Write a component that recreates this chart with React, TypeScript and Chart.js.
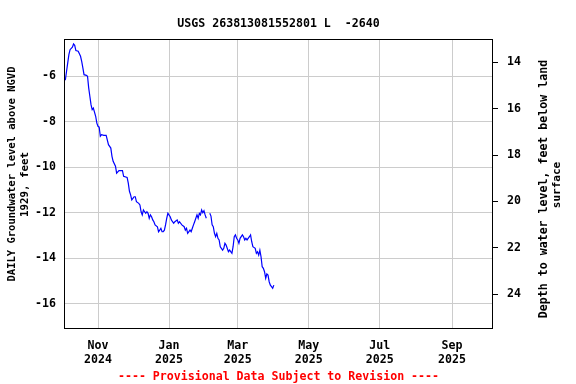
import React, { useEffect, useRef } from 'react';
import { Chart, registerables } from 'chart.js';

Chart.register(...registerables);

const chartTitle = 'USGS 263813081552801 L  -2640';
const leftAxisTitle = ['DAILY Groundwater level above NGVD', '1929, feet'];
const rightAxisTitle = ['Depth to water level, feet below land', 'surface'];
const footnote = '---- Provisional Data Subject to Revision ----';

const dates = [
  '2024-10-03', '2024-10-04', '2024-10-05', '2024-10-06', '2024-10-07', '2024-10-08', '2024-10-10', '2024-10-11',
  '2024-10-12', '2024-10-13', '2024-10-15', '2024-10-17', '2024-10-18', '2024-10-19', '2024-10-20', '2024-10-22',
  '2024-10-23', '2024-10-24', '2024-10-25', '2024-10-26', '2024-10-27', '2024-10-28', '2024-10-30', '2024-10-31',
  '2024-11-01', '2024-11-02', '2024-11-03', '2024-11-04', '2024-11-06', '2024-11-08', '2024-11-10', '2024-11-12',
  '2024-11-13', '2024-11-14', '2024-11-16', '2024-11-17', '2024-11-19', '2024-11-22', '2024-11-23', '2024-11-26',
  '2024-11-27', '2024-11-28', '2024-11-29', '2024-11-30', '2024-12-01', '2024-12-02', '2024-12-03', '2024-12-04',
  '2024-12-06', '2024-12-07', '2024-12-08', '2024-12-09', '2024-12-10', '2024-12-11', '2024-12-12', '2024-12-13',
  '2024-12-14', '2024-12-15', '2024-12-16', '2024-12-17', '2024-12-18', '2024-12-19', '2024-12-20', '2024-12-22',
  '2024-12-23', '2024-12-24', '2024-12-25', '2024-12-26', '2024-12-27', '2024-12-28', '2024-12-29', '2024-12-30',
  '2024-12-31', '2025-01-02', '2025-01-03', '2025-01-04', '2025-01-05', '2025-01-06', '2025-01-08', '2025-01-09',
  '2025-01-10', '2025-01-12', '2025-01-14', '2025-01-15', '2025-01-16', '2025-01-17', '2025-01-19', '2025-01-20',
  '2025-01-21', '2025-01-22', '2025-01-23', '2025-01-25', '2025-01-26', '2025-01-27', '2025-01-28', '2025-01-29',
  '2025-01-30', '2025-01-31', '2025-02-01', '2025-02-02', '2025-02-03', '2025-02-04', '2025-02-05', '2025-02-06',
  '2025-02-07', '2025-02-08', '2025-02-09', '2025-02-10', '2025-02-11', '2025-02-12', '2025-02-13', '2025-02-14',
  '2025-02-16', '2025-02-17', '2025-02-18', '2025-02-19', '2025-02-21', '2025-02-22', '2025-02-24', '2025-02-25',
  '2025-02-26', '2025-02-27', '2025-02-28', '2025-03-01', '2025-03-02', '2025-03-03', '2025-03-05', '2025-03-06',
  '2025-03-07', '2025-03-08', '2025-03-09', '2025-03-11', '2025-03-12', '2025-03-13', '2025-03-14', '2025-03-16',
  '2025-03-17', '2025-03-18', '2025-03-19', '2025-03-20', '2025-03-21', '2025-03-22', '2025-03-23', '2025-03-24',
  '2025-03-25', '2025-03-26', '2025-03-27', '2025-03-28', '2025-03-29', '2025-03-30', '2025-03-31', '2025-04-01',
];

const levels: (number | null)[] = [
  -6.15, -6.15, -5.78, -5.41, -5.05, -4.83, -4.72, -4.58,
  -4.64, -4.87, -4.90, -5.12, -5.34, -5.63, -5.93, -5.96,
  -6.00, -6.51, -6.88, -7.25, -7.47, -7.40, -7.76, -8.06,
  -8.20, -8.24, -8.64, -8.57, -8.60, -8.60, -9.01, -9.16,
  -9.52, -9.74, -9.96, -10.26, -10.15, -10.15, -10.40, -10.45,
  -10.70, -11.06, -11.22, -11.44, -11.37, -11.30, -11.30, -11.52,
  -11.59, -11.66, -11.96, -12.10, -11.88, -11.96, -12.03, -11.96,
  -12.03, -12.25, -12.10, -12.18, -12.32, -12.40, -12.54, -12.62,
  -12.84, -12.77, -12.69, -12.84, -12.84, -12.77, -12.54, -12.25,
  -12.03, -12.18, -12.32, -12.40, -12.47, -12.40, -12.32, -12.47,
  -12.40, -12.54, -12.62, -12.77, -12.69, -12.91, -12.77, -12.84,
  -12.69, -12.54, -12.40, -12.10, -12.25, -12.03, -12.10, -11.88,
  -12.00, -11.92, -12.10, -12.25, null, null, -12.03, -12.15,
  -12.54, -12.62, -12.91, -13.06, -12.91, -13.13, -13.20, -13.50,
  -13.65, -13.57, -13.35, -13.43, -13.72, -13.65, -13.79, -13.50,
  -13.06, -12.98, -13.13, -13.20, -13.35, -13.13, -12.98, -13.06,
  -13.20, -13.13, -13.20, -13.06, -12.98, -13.28, -13.50, -13.57,
  -13.79, -13.72, -13.87, -13.65, -13.94, -14.38, -14.45, -14.60,
  -14.89, -14.70, -14.75, -15.04, -15.19, -15.26, -15.33, -15.19,
];

const levelTicks = [-16, -14, -12, -10, -8, -6];
const depthTicks = [14, 16, 18, 20, 22, 24];
const monthTickDates = ['2024-11-01', '2025-01-01', '2025-03-01', '2025-05-01', '2025-07-01', '2025-09-01'];
const monthTickLabels = [
  ['Nov', '2024'], ['Jan', '2025'], ['Mar', '2025'], ['May', '2025'], ['Jul', '2025'], ['Sep', '2025'],
];

const DAY = 86400000;
const FONT = '"DejaVu Sans Mono", monospace';

export default function App() {
  const ref = useRef<HTMLCanvasElement | null>(null);

  useEffect(() => {
    const canvas = ref.current;
    if (!canvas) return;
    const nov1 = Date.parse('2024-11-01');
    const monthTickValues = monthTickDates.map((d) => Date.parse(d));

    const framePlugin = {
      id: 'framePlugin',
      afterDraw(chart: any) {
        const { ctx, chartArea } = chart;
        const { left, top, right, bottom } = chartArea;
        ctx.save();
        ctx.strokeStyle = '#000';
        ctx.lineWidth = 1;
        ctx.strokeRect(left + 0.5, top + 0.5, right - left - 1, bottom - top - 1);
        const cx = (left + right) / 2;
        ctx.fillStyle = '#000';
        ctx.textAlign = 'center';
        ctx.textBaseline = 'alphabetic';
        ctx.font = `bold 11.6px ${FONT}`;
        ctx.fillText(chartTitle, cx, 26.5);
        ctx.fillStyle = '#ff0000';
        ctx.fillText(footnote, cx, 380);
        ctx.fillStyle = '#000';
        ctx.textBaseline = 'middle';
        // left axis title
        ctx.save();
        ctx.translate(12, 174);
        ctx.rotate(-Math.PI / 2);
        ctx.font = `bold 10.5px ${FONT}`;
        ctx.fillText(leftAxisTitle[0], 0, 0);
        ctx.restore();
        ctx.save();
        ctx.translate(25, 184.5);
        ctx.rotate(-Math.PI / 2);
        ctx.font = `bold 10.8px ${FONT}`;
        ctx.fillText(leftAxisTitle[1], 0, 0);
        ctx.restore();
        // right axis title
        ctx.save();
        ctx.translate(544, 189);
        ctx.rotate(-Math.PI / 2);
        ctx.font = `bold 11.6px ${FONT}`;
        ctx.fillText(rightAxisTitle[0], 0, 0);
        ctx.restore();
        ctx.save();
        ctx.translate(557, 185);
        ctx.rotate(-Math.PI / 2);
        ctx.font = `bold 11px ${FONT}`;
        ctx.fillText(rightAxisTitle[1], 0, 0);
        ctx.restore();
        ctx.restore();
      },
    };

    const tickFont = { family: FONT, size: 11.6, weight: 'bold' };

    const chart = new Chart(canvas, {
      type: 'line',
      data: {
        datasets: [
          {
            data: dates.map((d, i) => ({ x: Date.parse(d), y: levels[i] })) as any,
            borderColor: '#0000ff',
            borderWidth: 1.2,
            pointRadius: 0,
            tension: 0,
            spanGaps: false,
            fill: false,
            yAxisID: 'y',
          },
        ],
      },
      options: {
        animation: false,
        responsive: false,
        events: [],
        layout: { padding: { top: 39, left: 0, right: 0, bottom: 0 } },
        plugins: { legend: { display: false }, tooltip: { enabled: false }, title: { display: false } },
        scales: {
          x: {
            type: 'linear',
            min: nov1 - 29.2 * DAY,
            max: nov1 + 339.2 * DAY,
            afterBuildTicks: (scale: any) => {
              scale.ticks = monthTickValues.map((v) => ({ value: v }));
            },
            afterFit: (scale: any) => {
              scale.height = 55;
            },
            grid: { color: '#cccccc', lineWidth: 1, drawTicks: false },
            border: { display: false },
            ticks: {
              padding: 10,
              color: '#000',
              maxRotation: 0,
              autoSkip: false,
              font: tickFont,
              callback: (value: any) => {
                const idx = monthTickValues.indexOf(Number(value));
                return idx >= 0 ? monthTickLabels[idx] : '';
              },
            },
          },
          y: {
            type: 'linear',
            position: 'left',
            min: -17.12,
            max: -4.36,
            afterBuildTicks: (scale: any) => {
              scale.ticks = levelTicks.map((v) => ({ value: v }));
            },
            afterFit: (scale: any) => {
              scale.width = 64;
            },
            grid: { color: '#cccccc', lineWidth: 1, drawTicks: false },
            border: { display: false },
            ticks: {
              padding: 8,
              color: '#000',
              font: tickFont,
              callback: (value: any) => String(value),
            },
          },
          y2: {
            type: 'linear',
            position: 'right',
            reverse: true,
            min: 13.0,
            max: 25.5,
            afterBuildTicks: (scale: any) => {
              scale.ticks = depthTicks.map((v) => ({ value: v }));
            },
            afterFit: (scale: any) => {
              scale.width = 83;
            },
            grid: { drawOnChartArea: false, drawTicks: true, tickLength: 5, tickColor: '#000', color: '#000' },
            border: { display: false },
            ticks: {
              padding: 9,
              color: '#000',
              font: tickFont,
              callback: (value: any) => String(value),
            },
          },
        },
      },
      plugins: [framePlugin],
    } as any);

    return () => {
      chart.destroy();
    };
  }, []);

  return (
    <div style={{ position: 'fixed', left: 0, top: 0, width: 576, height: 384, background: '#fff' }}>
      <canvas ref={ref} width={576} height={384} style={{ width: 576, height: 384, display: 'block' }} />
    </div>
  );
}
